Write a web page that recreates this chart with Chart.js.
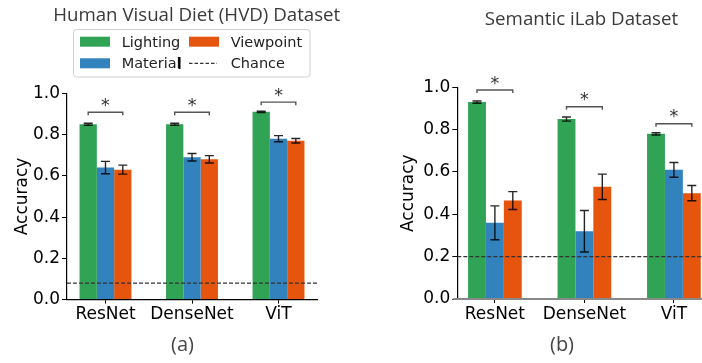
<!DOCTYPE html>
<html><head><meta charset="utf-8">
<script src="https://cdn.jsdelivr.net/npm/chart.js@4.4.0/dist/chart.umd.min.js"></script>
<style>
html,body{margin:0;padding:0;background:#fff;overflow:hidden;}
#wrap{position:relative;width:702px;height:363px;overflow:hidden;background:#fff;}
canvas{position:absolute;left:0;top:0;}
</style></head><body>
<div id="wrap"><canvas id="c1" width="702" height="363"></canvas><canvas id="c2" width="730" height="363"></canvas></div>
<script>
const categories = ['ResNet', 'DenseNet', 'ViT'];
const seriesNames = ['Lighting', 'Material', 'Viewpoint'];
const yTicks = [0, 0.2, 0.4, 0.6, 0.8, 1.0];

const hvdLighting = [0.85, 0.85, 0.91];
const hvdMaterial = [0.64, 0.69, 0.78];
const hvdViewpoint = [0.63, 0.68, 0.77];
const hvdLightingErr = [0.005, 0.005, 0.003];
const hvdMaterialErr = [0.03, 0.018, 0.015];
const hvdViewpointErr = [0.022, 0.018, 0.011];
const hvdChance = 0.08;
const hvdBracket = [0.908, 0.908, 0.957];

const ilabLighting = [0.93, 0.85, 0.78];
const ilabMaterial = [0.36, 0.32, 0.61];
const ilabViewpoint = [0.465, 0.53, 0.50];
const ilabLightingErr = [0.005, 0.01, 0.005];
const ilabMaterialErr = [0.08, 0.098, 0.035];
const ilabViewpointErr = [0.042, 0.06, 0.036];
const ilabChance = 0.2;
const ilabBracket = [0.987, 0.908, 0.828];

const colors = ['#31a354', '#3182bd', '#e6550d'];
const TICK_FONT = {family: 'DejaVu Sans', size: 17};

const annot = {
  id: 'annot',
  afterDatasetsDraw(chart, args, o) {
    const ctx = chart.ctx, y = chart.scales.y, ca = chart.chartArea;
    ctx.save();
    // chance line
    const cy = y.getPixelForValue(o.chance);
    ctx.setLineDash([4, 2]);
    ctx.strokeStyle = '#333';
    ctx.lineWidth = 1.1;
    ctx.beginPath(); ctx.moveTo(ca.left, cy); ctx.lineTo(ca.right, cy); ctx.stroke();
    ctx.setLineDash([]);
    // error bars
    ctx.strokeStyle = 'rgba(0,0,0,0.85)';
    ctx.lineWidth = 1.4;
    chart.data.datasets.forEach((ds, di) => {
      const meta = chart.getDatasetMeta(di);
      meta.data.forEach((bar, j) => {
        const v = ds.data[j].y, e = o.errors[di][j];
        const y1 = y.getPixelForValue(v + e), y2 = y.getPixelForValue(v - e);
        ctx.beginPath();
        ctx.moveTo(bar.x, y1); ctx.lineTo(bar.x, y2);
        ctx.moveTo(bar.x - 4.5, y1); ctx.lineTo(bar.x + 4.5, y1);
        ctx.moveTo(bar.x - 4.5, y2); ctx.lineTo(bar.x + 4.5, y2);
        ctx.stroke();
      });
    });
    // brackets and stars
    const m0 = chart.getDatasetMeta(0), m2 = chart.getDatasetMeta(2);
    o.brackets.forEach((b, j) => {
      const x1 = m0.data[j].x, x2 = m2.data[j].x, by = y.getPixelForValue(b);
      ctx.strokeStyle = '#555';
      ctx.lineWidth = 1.4;
      ctx.beginPath();
      ctx.moveTo(x1, by + 3); ctx.lineTo(x1, by); ctx.lineTo(x2, by); ctx.lineTo(x2, by + 3);
      ctx.stroke();
      ctx.fillStyle = '#333';
      ctx.font = '17.5px "DejaVu Sans"';
      ctx.textAlign = 'center';
      ctx.textBaseline = 'alphabetic';
      ctx.fillText('*', (x1 + x2) / 2, by - 1.5);
    });
    if (o.zeroLine) {
      const zy = y.getPixelForValue(0);
      ctx.strokeStyle = '#888';
      ctx.lineWidth = 2;
      ctx.beginPath(); ctx.moveTo(ca.left - 4, zy); ctx.lineTo(chart.width, zy); ctx.stroke();
    }
    ctx.restore();
  },
  afterDraw(chart, args, o) {
    const ctx = chart.ctx, ca = chart.chartArea;
    ctx.save();
    // title
    ctx.fillStyle = '#3a3a3a';
    ctx.font = '18.7px "Open Sans"';
    ctx.textAlign = 'center';
    ctx.textBaseline = 'alphabetic';
    ctx.fillText(o.title, o.titleX, o.titleY);
    // sub label
    ctx.fillStyle = '#444';
    ctx.font = '20px "Open Sans"';
    ctx.fillText(o.sub, o.subX, 351);
    // y axis title
    ctx.save();
    ctx.translate(o.yTitleX, (ca.top + ca.bottom) / 2);
    ctx.rotate(-Math.PI / 2);
    ctx.fillStyle = '#000';
    ctx.font = '17px "DejaVu Sans"';
    ctx.textAlign = 'center';
    ctx.textBaseline = 'middle';
    ctx.fillText('Accuracy', 0, 0);
    ctx.restore();
    // legend
    if (o.legend) {
      ctx.fillStyle = 'rgba(255,255,255,0.85)';
      ctx.strokeStyle = '#d0d0d0';
      ctx.lineWidth = 1;
      ctx.beginPath();
      ctx.roundRect(73.5, 29.5, 236.5, 47.5, 3);
      ctx.fill(); ctx.stroke();
      const items = [
        {t: seriesNames[0], kind: 'patch', c: colors[0], px: 80, row: 0},
        {t: seriesNames[1], kind: 'patch', c: colors[1], px: 80, row: 1},
        {t: seriesNames[2], kind: 'patch', c: colors[2], px: 189, row: 0},
        {t: 'Chance', kind: 'line', c: '#333', px: 189, row: 1}
      ];
      ctx.font = '14.5px "DejaVu Sans"';
      ctx.textAlign = 'left';
      ctx.textBaseline = 'alphabetic';
      items.forEach(it => {
        const base = it.row === 0 ? 46.7 : 68.3;
        if (it.kind === 'patch') {
          ctx.fillStyle = it.c;
          ctx.fillRect(it.px, base - 10, 30, 10);
        } else {
          ctx.strokeStyle = it.c;
          ctx.lineWidth = 1.2;
          ctx.setLineDash([3.5, 2]);
          ctx.beginPath(); ctx.moveTo(it.px, base - 5); ctx.lineTo(it.px + 28, base - 5); ctx.stroke();
          ctx.setLineDash([]);
        }
        ctx.fillStyle = '#222';
        ctx.fillText(it.t, it.px + 41.7, base);
      });
      ctx.fillStyle = '#000';
      ctx.fillRect(178.5, 57, 2, 12);
    }
    ctx.restore();
  }
};

function makeChart(id, vals, errs, o) {
  return new Chart(document.getElementById(id), {
    type: 'bar',
    data: {
      datasets: seriesNames.map((n, i) => ({
        label: n,
        data: categories.map((c, j) => ({x: j, y: vals[i][j]})),
        backgroundColor: colors[i],
        borderWidth: 0,
        categoryPercentage: 0.6,
        barPercentage: 1.0
      }))
    },
    options: {
      responsive: false,
      animation: false,
      devicePixelRatio: 1,
      layout: {padding: o.padding},
      plugins: {
        legend: {display: false},
        tooltip: {enabled: false},
        annot: Object.assign({errors: errs}, o.annot)
      },
      scales: {
        x: {
          type: 'linear', min: o.xmin, max: o.xmax, offset: false,
          afterBuildTicks: s => { s.ticks = categories.map((c, j) => ({value: j})); },
          afterFit: s => { s.height = 30; },
          ticks: {callback: v => categories[v], font: TICK_FONT, color: '#000', padding: 1, maxRotation: 0, autoSkip: false},
          grid: {drawOnChartArea: false, drawTicks: true, tickLength: 4, color: '#000', lineWidth: 1, offset: false},
          border: {display: !o.annot.zeroLine, color: '#000', width: 1.2}
        },
        y: {
          min: 0, max: 1,
          afterBuildTicks: s => { s.ticks = yTicks.map(v => ({value: v})); },
          afterFit: s => { s.width = 67; },
          ticks: {callback: v => v.toFixed(1), font: TICK_FONT, color: '#000', padding: 2},
          grid: {drawOnChartArea: false, drawTicks: true, tickLength: 5, color: '#000', lineWidth: 1},
          border: {display: true, color: '#000', width: 1.2}
        }
      }
    },
    plugins: [annot]
  });
}

makeChart('c1',
  [hvdLighting, hvdMaterial, hvdViewpoint],
  [hvdLightingErr, hvdMaterialErr, hvdViewpointErr],
  {
    padding: {left: 0, right: 385, top: 93.3, bottom: 33.4},
    xmin: -0.445, xmax: 2.445,
    annot: {chance: hvdChance, brackets: hvdBracket, title: 'Human Visual Diet (HVD) Dataset', titleX: 196.7, titleY: 20.7,
            sub: '(a)', subX: 182.5, yTitleX: 22.5, legend: true, zeroLine: false}
  });

makeChart('c2',
  [ilabLighting, ilabMaterial, ilabViewpoint],
  [ilabLightingErr, ilabMaterialErr, ilabViewpointErr],
  {
    padding: {left: 390.3, right: 18.5, top: 87.3, bottom: 34},
    xmin: -0.42, xmax: 2.42,
    annot: {chance: ilabChance, brackets: ilabBracket, title: 'Semantic iLab Dataset', titleX: 581.5, titleY: 25,
            sub: '(b)', subX: 562, yTitleX: 409, legend: false, zeroLine: true}
  });
</script>
</body></html>
